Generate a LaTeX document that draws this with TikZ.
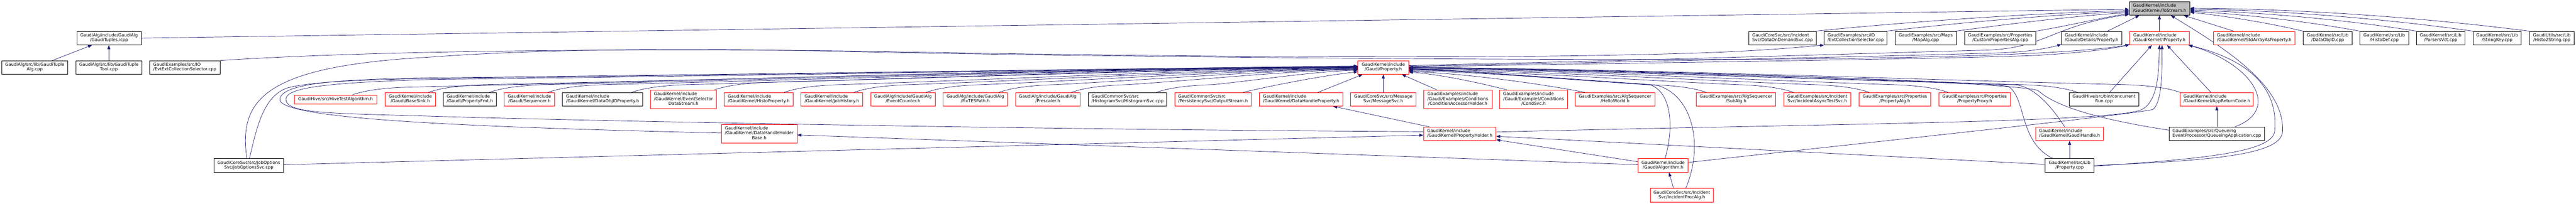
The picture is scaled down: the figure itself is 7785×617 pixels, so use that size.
\documentclass[tikz,border=0pt]{standalone}
\usepackage{fontspec}
\setmainfont{DejaVu Sans}
\usetikzlibrary{arrows.meta}
\pgfdeclarelayer{bg}
\pgfsetlayers{bg,main}
\definecolor{edgec}{HTML}{191970}
\definecolor{boxred}{HTML}{FF0000}
\definecolor{rootgray}{HTML}{BFBFBF}
\newcommand{\Ltwo}[2]{\begin{tabular}{@{}l@{}}#1\\\multicolumn{1}{@{}c@{}}{#2}\end{tabular}}
\newcommand{\Lthree}[3]{\begin{tabular}{@{}l@{}}#1\\#2\\\multicolumn{1}{@{}c@{}}{#3}\end{tabular}}
% left fan into Property.h west: #1 source anchor, #2 sx, #3 sy, #4 yshift at target
\newcommand{\lfan}[4]{\draw[conn] (#1) .. controls ({#2+40},{#3-15}) and ({#2+100},{#3-22}) .. ({#2+170},{#3-24}) .. controls ({#2+170+0.3*(4104-#2-170)},{#3-24-0.3*(#3-24-204.5+(#4))}) and ({4104-0.3*(4104-#2-170)},{204.5-(#4)+3}) .. ([yshift=#4pt]prop.west);}
% right fan into Property.h east
\newcommand{\rfan}[4]{\draw[conn] (#1) .. controls ({#2-40},{#3-15}) and ({#2-100},{#3-22}) .. ({#2-170},{#3-24}) .. controls ({#2-170-0.3*(#2-170-4257)},{#3-24-0.3*(#3-24-204.5+(#4))}) and ({4257+0.3*(#2-170-4257)},{204.5-(#4)+3}) .. ([yshift=#4pt]prop.east);}
\begin{document}
\begin{tikzpicture}[x=1pt,y=-1pt,
  nd/.style={draw, line width=1.4pt, fill=white, inner sep=0pt, minimum height=41pt, font=\fontsize{13pt}{14.5pt}\selectfont},
  blk/.style={nd, draw=black},
  rbox/.style={nd, draw=boxred},
  rootbox/.style={nd, draw=black, fill=rootgray},
  one/.style={minimum height=27pt},
  three/.style={minimum height=56pt},
  conn/.style={draw=edgec, line width=1.1pt, -{Triangle[length=12pt,width=9pt]}}]
\useasboundingbox (0,0) rectangle (7785,617);
% root
\node[rootbox, minimum width=183pt, minimum height=40pt] (tostream) at (6526.5,26) {\Ltwo{GaudiKernel/include}{/GaudiKernel/ToStream.h}};
% row A
\node[blk, minimum width=195pt] (tuples) at (329.5,115.5) {\Ltwo{GaudiAlg/include/GaudiAlg}{/GaudiTuples.icpp}};
\node[blk, minimum width=204pt] (dods) at (5387,115.5) {\Ltwo{GaudiCoreSvc/src/Incident}{Svc/DataOnDemandSvc.cpp}};
\node[blk, minimum width=190pt] (evtcol) at (5608,115.5) {\Ltwo{GaudiExamples/src/IO}{/EvtCollectionSelector.cpp}};
\node[blk, minimum width=185pt] (mapalg) at (5819.5,115.5) {\Ltwo{GaudiExamples/src/Maps}{/MapAlg.cpp}};
\node[blk, minimum width=216pt] (custprop) at (6045,115.5) {\Ltwo{GaudiExamples/src/Properties}{/CustomPropertiesAlg.cpp}};
\node[blk, minimum width=182pt] (detprop) at (6321,115.5) {\Ltwo{GaudiKernel/include}{/Gaudi/Details/Property.h}};
\node[rbox, minimum width=180pt] (iprop) at (6526,115.5) {\Ltwo{GaudiKernel/include}{/GaudiKernel/IProperty.h}};
\node[rbox, minimum width=247pt] (stdarr) at (6812.5,115.5) {\Ltwo{GaudiKernel/include}{/GaudiKernel/StdArrayAsProperty.h}};
\node[blk, minimum width=147pt] (dataobjid) at (7034.5,115.5) {\Ltwo{GaudiKernel/src/Lib}{/DataObjID.cpp}};
\node[blk, minimum width=147pt] (histodef) at (7205.5,115.5) {\Ltwo{GaudiKernel/src/Lib}{/HistoDef.cpp}};
\node[blk, minimum width=146pt] (parsers) at (7376,115.5) {\Ltwo{GaudiKernel/src/Lib}{/ParsersVct.cpp}};
\node[blk, minimum width=145pt] (stringkey) at (7546.5,115.5) {\Ltwo{GaudiKernel/src/Lib}{/StringKey.cpp}};
\node[blk, minimum width=136pt] (histostr) at (7712,115.5) {\Ltwo{GaudiUtils/src/Lib}{/Histo2String.cpp}};
% row B
\node[blk, minimum width=200pt] (tupalg) at (105,204.5) {\Ltwo{GaudiAlg/src/lib/GaudiTuple}{Alg.cpp}};
\node[blk, minimum width=200pt] (tuptool) at (329,204.5) {\Ltwo{GaudiAlg/src/lib/GaudiTuple}{Tool.cpp}};
\node[blk, minimum width=213pt] (evtext) at (558.5,204.5) {\Ltwo{GaudiExamples/src/IO}{/EvtExtCollectionSelector.cpp}};
\node[rbox, minimum width=153pt] (prop) at (4180.5,204.5) {\Ltwo{GaudiKernel/include}{/Gaudi/Property.h}};
% row C
\node[rbox, one, minimum width=250pt] (hivetest) at (1014,301.5) {GaudiHive/src/HiveTestAlgorithm.h};
\node[rbox, minimum width=152pt] (basesink) at (1240,301) {\Ltwo{GaudiKernel/include}{/Gaudi/BaseSink.h}};
\node[blk, minimum width=160pt] (propfmt) at (1420,301) {\Ltwo{GaudiKernel/include}{/Gaudi/PropertyFmt.h}};
\node[rbox, minimum width=152pt] (sequencer) at (1600,301) {\Ltwo{GaudiKernel/include}{/Gaudi/Sequencer.h}};
\node[blk, minimum width=242pt] (dataobjidprop) at (1821,301) {\Ltwo{GaudiKernel/include}{/GaudiKernel/DataObjIDProperty.h}};
\node[rbox, three, minimum width=199pt] (evtselds) at (2065.5,301) {\Lthree{GaudiKernel/include}{/GaudiKernel/EventSelector}{DataStream.h}};
\node[rbox, minimum width=208pt] (histoprop) at (2293,301) {\Ltwo{GaudiKernel/include}{/GaudiKernel/HistoProperty.h}};
\node[rbox, minimum width=186pt] (jobhist) at (2514,301) {\Ltwo{GaudiKernel/include}{/GaudiKernel/JobHistory.h}};
\node[rbox, minimum width=194pt] (evtcounter) at (2729,301) {\Ltwo{GaudiAlg/include/GaudiAlg}{/EventCounter.h}};
\node[rbox, minimum width=195pt] (fixtes) at (2947.5,301) {\Ltwo{GaudiAlg/include/GaudiAlg}{/FixTESPath.h}};
\node[rbox, minimum width=195pt] (prescaler) at (3166.5,301) {\Ltwo{GaudiAlg/include/GaudiAlg}{/Prescaler.h}};
\node[blk, minimum width=237pt] (histosvc) at (3407.5,301) {\Ltwo{GaudiCommonSvc/src}{/HistogramSvc/HistogramSvc.cpp}};
\node[rbox, minimum width=230pt] (outstream) at (3666,301) {\Ltwo{GaudiCommonSvc/src}{/PersistencySvc/OutputStream.h}};
\node[rbox, minimum width=252pt] (dhprop) at (3932,301) {\Ltwo{GaudiKernel/include}{/GaudiKernel/DataHandleProperty.h}};
\node[rbox, minimum width=197pt] (msgsvc) at (4180.5,301) {\Ltwo{GaudiCoreSvc/src/Message}{Svc/MessageSvc.h}};
\node[rbox, three, minimum width=207pt] (condacc) at (4405.5,301) {\Lthree{GaudiExamples/include}{/Gaudi/Examples/Conditions}{/ConditionAccessorHolder.h}};
\node[rbox, three, minimum width=205pt] (condsvc) at (4634.5,301) {\Lthree{GaudiExamples/include}{/Gaudi/Examples/Conditions}{/CondSvc.h}};
\node[rbox, minimum width=240pt] (helloworld) at (4881,301) {\Ltwo{GaudiExamples/src/AlgSequencer}{/HelloWorld.h}};
\node[rbox, minimum width=239pt] (subalg) at (5246.5,301) {\Ltwo{GaudiExamples/src/AlgSequencer}{/SubAlg.h}};
\node[rbox, minimum width=202pt] (incasync) at (5492,301) {\Ltwo{GaudiExamples/src/Incident}{Svc/IncidentAsyncTestSvc.h}};
\node[rbox, minimum width=217pt] (propalg) at (5726.5,301) {\Ltwo{GaudiExamples/src/Properties}{/PropertyAlg.h}};
\node[rbox, minimum width=217pt] (propproxy) at (5967.5,301) {\Ltwo{GaudiExamples/src/Properties}{/PropertyProxy.h}};
\node[blk, minimum width=211pt] (concrun) at (6358.5,301) {\Ltwo{GaudiHive/src/bin/concurrent}{Run.cpp}};
\node[rbox, minimum width=221pt] (appret) at (6699.5,301) {\Ltwo{GaudiKernel/include}{/GaudiKernel/AppReturnCode.h}};
% row D
\node[rbox, three, minimum width=229pt] (dhhbase) at (2294.5,405) {\Lthree{GaudiKernel/include}{/GaudiKernel/DataHandleHolder}{Base.h}};
\node[rbox, minimum width=219pt] (propholder) at (4411.5,405.5) {\Ltwo{GaudiKernel/include}{/GaudiKernel/PropertyHolder.h}};
\node[rbox, minimum width=205pt] (gaudihandle) at (6254.5,405.5) {\Ltwo{GaudiKernel/include}{/GaudiKernel/GaudiHandle.h}};
\node[blk, minimum width=287pt] (queueapp) at (6699.5,405.5) {\Ltwo{GaudiExamples/src/Queueing}{EventProcessor/QueueingApplication.cpp}};
% row E
\node[blk, minimum width=210pt] (jobopt) at (752,501.5) {\Ltwo{GaudiCoreSvc/src/JobOptions}{Svc/JobOptionsSvc.cpp}};
\node[rbox, minimum width=152pt] (algorithm) at (5026,501.5) {\Ltwo{GaudiKernel/include}{/Gaudi/Algorithm.h}};
\node[blk, minimum width=147pt] (propcpp) at (6254.5,501.5) {\Ltwo{GaudiKernel/src/Lib}{/Property.cpp}};
% row F
\node[rbox, minimum width=191pt] (incproc) at (5082.5,591.5) {\Ltwo{GaudiCoreSvc/src/Incident}{Svc/IncidentProcAlg.h}};

\begin{pgfonlayer}{bg}
\fill[white] (0,0) rectangle (7785,617);
% ---- into ToStream.h
\draw[conn] (tuples.east) -- ([yshift=-2pt]tostream.west);
\draw[conn] ([xshift=-2pt]dods.north east) .. controls (5800,62) and (6200,38) .. ([yshift=-6pt]tostream.west);
\draw[conn] ([xshift=-2pt]evtcol.north east) .. controls (5980,62) and (6250,42) .. ([yshift=-9pt]tostream.west);
\draw[conn] ([xshift=-2pt]mapalg.north east) .. controls (6120,66) and (6300,46) .. ([yshift=-12pt]tostream.west);
\draw[conn] (custprop.north east) .. controls (6260,76) and (6360,52) .. ([yshift=-15pt]tostream.west);
\draw[conn] ([xshift=48pt]detprop.north) -- ([xshift=-61pt]tostream.south);
\draw[conn] (iprop.north) -- (iprop.north |- tostream.south);
\draw[conn] ([xshift=-62pt]stdarr.north) -- ([xshift=73pt]tostream.south);
\draw[conn] (dataobjid.north west) .. controls (6850,68) and (6720,48) .. ([yshift=-11pt]tostream.east);
\draw[conn] (histodef.north west) .. controls (6960,62) and (6760,42) .. ([yshift=-8pt]tostream.east);
\draw[conn] (parsers.north west) .. controls (7060,55) and (6800,36) .. ([yshift=-5pt]tostream.east);
\draw[conn] (stringkey.north west) .. controls (7160,50) and (6840,30) .. ([yshift=-2pt]tostream.east);
\draw[conn] (histostr.north west) .. controls (7260,45) and (6880,26) .. ([yshift=1pt]tostream.east);
\draw[conn] ([yshift=6pt]prop.east) .. controls (5000,182) and (5700,160) .. (6000,152) .. controls (6180,147) and (6200,78) .. ([yshift=3pt]tostream.south west);
\draw[conn] (propcpp.east) .. controls (6665,487) and (6892,472) .. (6898,400) .. controls (6906,262) and (6730,150) .. ([xshift=34pt]tostream.south);
% ---- GaudiTuples / EvtCollectionSelector
\draw[conn] ([xshift=53pt]tupalg.north) -- ([xshift=-51.5pt]tuples.south);
\draw[conn] (tuptool.north) -- (tuptool.north |- tuples.south);
\draw[conn] (evtext.north east) .. controls (1200,148) and (2100,148) .. (2600,155) .. controls (3500,172) and (4600,182) .. (5200,158) .. controls (5380,150) and (5470,140) .. (evtcol.south west);
% ---- into Details/Property.h and IProperty.h
\draw[conn] ([yshift=4pt]prop.east) .. controls (5000,186) and (5800,168) .. (6050,160) .. controls (6130,157) and (6190,146) .. ([yshift=2pt]detprop.south west);
\draw[conn] ([yshift=2pt]prop.east) .. controls (5000,190) and (5900,178) .. (6150,168) .. controls (6300,160) and (6400,145) .. ([yshift=2pt]iprop.south west);
\draw[conn] ([xshift=-6pt]jobopt.north) .. controls (720,300) and (800,200) .. (1300,173) .. controls (1750,140) and (2300,150) .. (2600,157) .. controls (3300,172) and (4800,186) .. (5500,178) .. controls (6000,172) and (6300,158) .. ([yshift=1pt]iprop.south west);
\draw[conn] ([xshift=17pt]concrun.north) -- ([xshift=-23pt]iprop.south);
\draw[conn] ([xshift=-18pt]appret.north) -- ([xshift=23pt]iprop.south);
\draw[conn] ([yshift=5.5pt]propholder.east) .. controls (5500,375) and (6350,372) .. (6468,334) .. controls (6522,312) and (6524,220) .. (iprop.south);
\draw[conn] ([yshift=9.5pt]algorithm.east) .. controls (5800,415) and (6400,352) .. (6506,332) .. controls (6534,310) and (6534,220) .. ([xshift=8pt]iprop.south);
\draw[conn] ([xshift=54.5pt]queueapp.north) .. controls (6900,330) and (6800,190) .. ([xshift=-3pt]iprop.south east);
\draw[conn] ([yshift=-2pt]propcpp.east) .. controls (6650,482) and (6862,462) .. (6874,400) .. controls (6888,262) and (6790,180) .. ([xshift=-3pt]iprop.south east);
% ---- into Property.h from the left
\lfan{[xshift=51pt]hivetest.north}{1065}{288}{1.5}
\lfan{[xshift=55pt]basesink.north}{1295}{280.5}{1}
\lfan{[xshift=59pt]propfmt.north}{1479}{280.5}{0.5}
\lfan{[xshift=56pt]sequencer.north}{1656}{280.5}{0}
\lfan{[xshift=88pt]dataobjidprop.north}{1909}{280.5}{-0.5}
\lfan{[xshift=94pt]evtselds.north}{2159.5}{273}{-1.5}
\lfan{[xshift=77pt]histoprop.north}{2370}{280.5}{-2.5}
\lfan{[xshift=67pt]jobhist.north}{2581}{280.5}{-3.5}
\lfan{[xshift=70pt]evtcounter.north}{2799}{280.5}{-4.5}
\lfan{[xshift=71.5pt]fixtes.north}{3019}{280.5}{-5.5}
\lfan{[xshift=71.5pt]prescaler.north}{3238}{280.5}{-6.5}
\lfan{[xshift=87.5pt]histosvc.north}{3495}{280.5}{-8.5}
\draw[conn] ([xshift=91pt]outstream.north) .. controls (3830,262) and (3990,230) .. ([yshift=-13pt]prop.west);
\draw[conn] ([xshift=51pt]dhprop.north) -- ([xshift=-62.5pt]prop.south);
\draw[conn] (msgsvc.north) -- (prop.south);
\draw[conn] ([xshift=-63pt]condacc.north) -- ([xshift=56pt]prop.south);
% loops round the left
\draw[conn] ([yshift=2pt]dhhbase.west) .. controls (1400,385) and (830,360) .. (846,299) .. controls (855,255) and (1000,240) .. (1300,236) .. controls (2500,222) and (3500,206) .. ([yshift=3.5pt]prop.west);
\draw[conn] ([yshift=6.5pt]propholder.west) .. controls (3000,392) and (1600,362) .. (1300,352) .. controls (1000,343) and (862,345) .. (864,300) .. controls (866,264) and (1000,250) .. (1300,241) .. controls (2500,226) and (3500,207) .. ([yshift=2.5pt]prop.west);
\draw[conn] ([xshift=2pt]jobopt.north) .. controls (775,390) and (795,290) .. (870,266) .. controls (950,246) and (1100,242) .. (1300,238) .. controls (2500,224) and (3500,206) .. ([yshift=4.5pt]prop.west);
% ---- into Property.h from the right
\draw[conn] ([xshift=-80pt]condsvc.north) .. controls (4460,248) and (4340,224) .. ([yshift=-14pt]prop.east);
\draw[conn] ([xshift=-92pt]helloworld.north) .. controls (4680,258) and (4450,224) .. ([yshift=-12pt]prop.east);
\rfan{[xshift=-90pt]subalg.north}{5156.5}{280.5}{-10}
\rfan{[xshift=-72pt]incasync.north}{5420}{280.5}{-8}
\rfan{[xshift=-78pt]propalg.north}{5648.5}{280.5}{-6}
\rfan{[xshift=-80pt]propproxy.north}{5887.5}{280.5}{-4}
\rfan{[xshift=-80pt]concrun.north}{6278.5}{280.5}{-2}
\rfan{appret.north west}{6589}{280.5}{0}
\draw[conn] ([xshift=-15pt]gaudihandle.north) .. controls (6205,330) and (6150,262) .. (6090,257) .. controls (5500,240) and (4700,212) .. ([yshift=-1pt]prop.east);
\draw[conn] ([xshift=-50pt]propcpp.north) .. controls (6100,430) and (6125,300) .. (6070,262) .. controls (6000,245) and (4800,211) .. (prop.east);
\draw[conn] ([yshift=11pt]queueapp.west) .. controls (6330,360) and (6210,320) .. (6160,275) .. controls (6120,250) and (5000,212) .. ([yshift=1pt]prop.east);
\draw[conn] ([xshift=6pt]algorithm.north) .. controls (5058,390) and (5055,280) .. (4985,256) .. controls (4700,236) and (4450,216) .. ([yshift=-3pt]prop.east);
\draw[conn] ([xshift=12pt]incproc.north) .. controls (5150,440) and (5115,290) .. (5010,259) .. controls (4700,238) and (4450,216) .. ([yshift=-5pt]prop.east);
% ---- other includes
\draw[conn] ([xshift=-92pt]propholder.north) -- ([xshift=97pt]dhprop.south);
\draw[conn] ([yshift=2.5pt]jobopt.east) -- ([yshift=-4pt]propholder.west);
\draw[conn] ([yshift=2.5pt]algorithm.west) -- ([yshift=-4pt]dhhbase.east);
\draw[conn] ([yshift=11.5pt]algorithm.west) -- ([yshift=-18pt]propholder.east);
\draw[conn] ([yshift=3.5pt]propcpp.west) -- ([yshift=-7.5pt]propholder.east);
\draw[conn] ([xshift=-25pt]incproc.north) -- ([xshift=18pt]algorithm.south);
\draw[conn] (propcpp.north) -- (gaudihandle.south);
\draw[conn] (queueapp.north) -- (appret.south);
\end{pgfonlayer}
\end{tikzpicture}
\end{document}
